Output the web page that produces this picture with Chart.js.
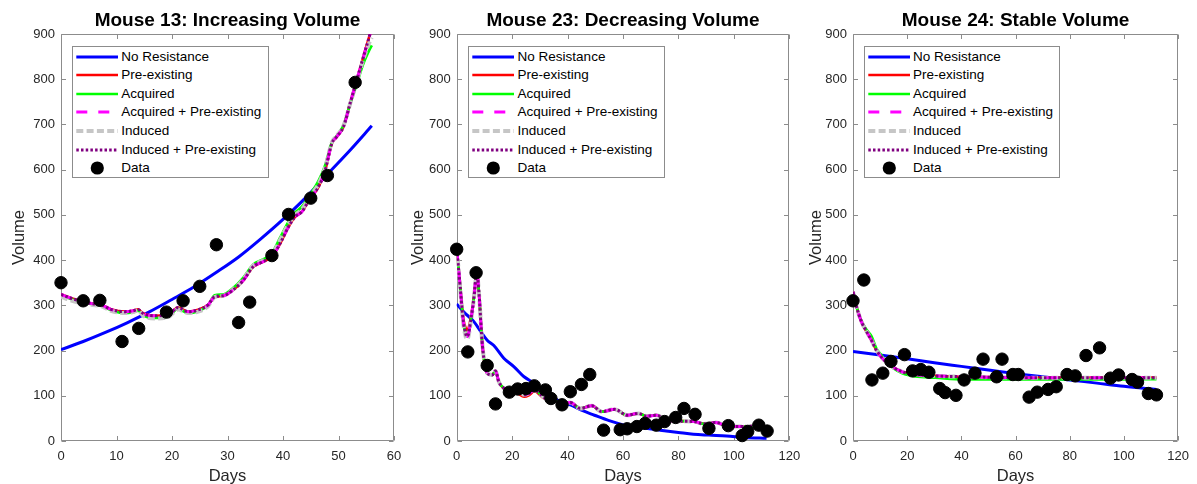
<!DOCTYPE html>
<html><head><meta charset="utf-8">
<script src="https://cdn.jsdelivr.net/npm/chart.js@4.4.1/dist/chart.umd.min.js"></script>
<style>
html,body{margin:0;padding:0;background:#fff;}
#wrap{position:relative;width:1197px;height:484px;overflow:hidden;background:#fff;}
canvas{position:absolute;top:0;}
.lg{position:absolute;background:#fff;border:1px solid #8c8c8c;box-sizing:border-box;font-family:"Liberation Sans",Arial,sans-serif;font-size:13.5px;color:#000;z-index:5;}
.lg .row{position:absolute;left:0;height:18px;width:100%;}
.lg svg{position:absolute;left:0;top:0;}
.lg span{position:absolute;left:48.3px;top:0;line-height:18px;white-space:nowrap;}
</style></head><body>
<div id="wrap">
<canvas id="c1" width="420" height="484" style="left:0px;width:420px;height:484px"></canvas>
<canvas id="c2" width="420" height="484" style="left:399px;width:420px;height:484px"></canvas>
<canvas id="c3" width="400" height="484" style="left:797px;width:400px;height:484px"></canvas>
</div>
<script>
const FONT = '"Liberation Sans", Arial, Helvetica, sans-serif';

// ---------- Mouse 13 ----------
const m13Days = [0, 4, 7, 11, 14, 19, 22, 25, 28, 32, 34, 38, 41, 45, 48, 53];
const m13Volume = [350, 310, 311, 220, 249, 285, 310, 342, 434, 262, 307, 410, 501, 537, 587, 793];
const m13ModelDays = [0, 2, 4, 5.5, 7.3, 9, 11.5, 13, 13.9, 14.8, 16.9, 19.3, 21.1, 22.9, 24.7, 26.5, 27.7, 29.2, 31, 32.9, 34.6, 36.5, 38, 39.5, 41, 42.2, 43.4, 44.9, 46.4, 47.6, 48.8, 49.7, 50.9, 52.1, 53.3, 54.5, 55.7, 56];
const m13PreExisting = [324, 315, 308, 304, 301, 291, 286, 288, 291, 282, 277, 279, 295, 286, 290, 301, 319, 321, 334, 356, 385, 397, 408, 437, 474, 496, 507, 537, 562, 599, 658, 673, 695, 747, 798, 850, 901, 915];
const m13Acquired = [322, 313, 306, 303, 300, 289, 283, 285, 288, 278, 272, 276, 292, 283, 287, 300, 322, 324, 338, 362, 390, 402, 415, 450, 485, 505, 518, 545, 575, 610, 660, 675, 698, 745, 790, 835, 868, 875];
const m13Induced = [319, 310, 304, 301, 298, 288, 283, 285, 289, 277, 271, 274, 291, 283, 286, 298, 318, 321, 335, 358, 388, 400, 412, 445, 480, 500, 512, 542, 568, 605, 660, 675, 697, 746, 795, 845, 885, 892];
const m13Combined = [324, 315, 308, 304, 301, 291, 286, 288, 291, 282, 277, 279, 295, 286, 290, 301, 319, 321, 334, 356, 385, 397, 408, 437, 474, 496, 507, 537, 562, 599, 658, 673, 695, 747, 798, 850, 901, 915];
const m13NoResDays = [0, 4, 8, 12, 16, 20, 24, 28, 32, 36, 40, 44, 48, 52, 56];
const m13NoResistance = [202, 220, 240, 262, 286, 313, 341, 373, 407, 447, 490, 537, 590, 642, 697];

// ---------- Mouse 23 ----------
const m23Days = [0, 4, 7, 11, 14, 19, 22, 25, 28, 32, 34, 38, 41, 45, 48, 53, 59, 61.5, 65, 68, 72, 75, 79, 82, 86, 91, 98, 103, 105, 109, 112];
const m23Volume = [424, 197, 372, 167, 82, 108, 115, 116, 122, 113, 94, 80, 109, 125, 147, 24, 25, 27, 32, 39, 35, 43, 52, 72, 59, 28, 34, 12, 21, 35, 22];
const m23ModelDays = [0, 0.7, 1.4, 2.4, 3.2, 3.6, 4.2, 5.0, 6.2, 7.0, 7.3, 8.0, 9.3, 11, 12.8, 14, 15.2, 17, 20, 22, 24.3, 26, 28, 31.6, 35.2, 37.2, 41, 44.6, 48.8, 52.3, 57, 61.6, 65.5, 68.5, 72, 76, 79.6, 85.6, 89.2, 93.5, 97.7, 103.6, 107.8, 110];
const m23PreExisting = [424, 380, 332, 270, 250, 244, 248, 270, 318, 365, 371, 330, 210, 150, 146, 155, 131, 116, 108, 105, 98, 101, 110, 94, 90, 83, 85, 72, 78, 65, 70, 57, 61, 55, 57, 46, 44, 43, 38, 41, 33, 32, 33, 27];
const m23Acquired = [424, 380, 330, 264, 238, 231, 236, 264, 316, 365, 371, 330, 210, 150, 146, 155, 131, 117, 111, 110, 102, 105, 113, 96, 91, 83, 85, 72, 78, 65, 70, 57, 61, 55, 57, 46, 44, 43, 38, 41, 33, 32, 33, 27];
const m23Induced = [424, 378, 326, 258, 232, 225, 230, 260, 314, 365, 371, 330, 210, 150, 146, 155, 131, 117, 111, 110, 102, 105, 113, 96, 91, 83, 85, 72, 78, 65, 70, 57, 61, 55, 57, 46, 44, 43, 38, 41, 33, 32, 33, 27];
const m23Combined = [424, 380, 330, 264, 238, 231, 236, 264, 316, 365, 371, 330, 210, 150, 146, 155, 131, 117, 111, 110, 102, 105, 113, 96, 91, 83, 85, 72, 78, 65, 70, 57, 61, 55, 57, 46, 44, 43, 38, 41, 33, 32, 33, 27];
const m23NoResDays = [0, 2.6, 6.2, 8.7, 11, 13.4, 17, 20.7, 24.3, 27.9, 32.7, 37.4, 41, 45, 49.7, 55, 60.5, 67, 73.4, 80, 85.4, 91, 97.4, 104, 111.8];
const m23NoResistance = [303, 285, 264, 242, 223, 211, 183, 164, 142, 128, 105, 87, 80, 68, 57, 45, 35, 29, 24, 19, 15, 13, 11, 8, 6];

// ---------- Mouse 24 ----------
const m24Days = [0, 4, 7, 11, 14, 19, 22, 25, 28, 32, 34, 38, 41, 45, 48, 53, 55, 59, 61, 65, 68, 72, 75, 79, 82, 86, 91, 95, 98, 103, 105, 109, 112];
const m24Volume = [310, 356, 135, 150, 176, 191, 155, 158, 152, 116, 107, 101, 135, 150, 181, 142, 181, 147, 147, 97, 108, 114, 120, 147, 144, 189, 206, 139, 146, 136, 130, 105, 102];
const m24ModelDays = [0, 1.3, 3.1, 5, 6.8, 8.6, 10.4, 12.2, 14.6, 18.2, 23, 30.3, 41, 52, 65, 80, 95, 112];
const m24PreExisting = [330, 297, 264, 242, 223, 201, 186, 175, 164, 153, 147, 144, 142, 141, 140, 140, 140, 140];
const m24Acquired = [330, 297, 266, 246, 232, 205, 190, 176, 162, 150, 143, 140, 136, 136, 136, 136, 136, 137];
const m24Induced = [330, 297, 264, 242, 223, 201, 186, 175, 164, 153, 147, 144, 142, 141, 140, 140, 140, 140];
const m24Combined = [330, 297, 264, 242, 223, 201, 186, 175, 164, 153, 147, 144, 142, 141, 140, 140, 140, 140];
const m24NoResDays = [0, 10, 20, 30, 40, 50, 60, 70, 80, 90, 100, 112];
const m24NoResistance = [198, 190, 182, 173, 165, 157, 149, 142, 135, 128, 121, 114];

// ---------- axes / labels ----------
const volumeTicks = {min: 0, max: 900, step: 100};
const titles = ['Mouse 13: Increasing Volume', 'Mouse 23: Decreasing Volume', 'Mouse 24: Stable Volume'];
const legendLabels = ['No Resistance', 'Pre-existing', 'Acquired', 'Acquired + Pre-existing', 'Induced', 'Induced + Pre-existing', 'Data'];

const xy = (xs, ys) => xs.map((x, i) => ({x: x, y: ys[i]}));

const STY = {
  'No Resistance': {color: '#0000ff', width: 3, dash: []},
  'Pre-existing': {color: '#ff0000', width: 2.7, dash: []},
  'Acquired': {color: '#00ff00', width: 2.7, dash: []},
  'Acquired + Pre-existing': {color: '#ff00ff', width: 3, dash: [11, 11]},
  'Induced': {color: '#c6c6c6', width: 4, dash: [7, 3.3]},
  'Induced + Pre-existing': {color: '#800080', width: 3, dash: [2.5, 2.2]}
};

function lineDs(label, xs, ys) {
  const s = STY[label];
  return {label: label, data: xy(xs, ys), showLine: true, borderColor: s.color, backgroundColor: s.color,
    borderWidth: s.width, borderDash: s.dash, borderCapStyle: 'butt', borderJoinStyle: 'round',
    pointRadius: 0, pointHoverRadius: 0, cubicInterpolationMode: 'monotone', fill: false};
}

const boxPlugin = {
  id: 'mbox',
  beforeDatasetsDraw(chart) {
    const {ctx, chartArea: a} = chart;
    const xs = chart.scales.x, ys = chart.scales.y;
    ctx.save();
    ctx.strokeStyle = '#8c8c8c';
    ctx.lineWidth = 1;
    const L = Math.round(a.left) + 0.5, R = Math.round(a.right) - 0.5;
    const T = Math.round(a.top) + 0.5, B = Math.round(a.bottom) - 0.5;
    ctx.beginPath();
    ctx.rect(L, T, R - L, B - T);
    const tl = 4.5;
    xs.ticks.forEach(t => {
      const p = Math.round(xs.getPixelForValue(t.value)) + 0.5;
      ctx.moveTo(p, B); ctx.lineTo(p, B - tl);
      ctx.moveTo(p, T); ctx.lineTo(p, T + tl);
    });
    ys.ticks.forEach(t => {
      const p = Math.round(ys.getPixelForValue(t.value)) + 0.5;
      ctx.moveTo(L, p); ctx.lineTo(L + tl, p);
      ctx.moveTo(R, p); ctx.lineTo(R - tl, p);
    });
    ctx.stroke();
    ctx.restore();
  }
};

function makePanel(id, p) {
  const datasets = [
    {label: 'Data', data: xy(p.days, p.vol), showLine: false, pointRadius: 6.2, pointBorderWidth: 1,
      pointBackgroundColor: '#000', pointBorderColor: '#000', backgroundColor: '#000', borderColor: '#000', clip: false},
    lineDs('Induced + Pre-existing', p.mt, p.comb),
    lineDs('Acquired + Pre-existing', p.mt, p.comb),
    lineDs('Induced', p.mt, p.ind),
    lineDs('Acquired', p.mt, p.acq),
    lineDs('Pre-existing', p.mt, p.pre),
    lineDs('No Resistance', p.nt, p.nr)
  ];
  return new Chart(document.getElementById(id), {
    type: 'scatter',
    data: {datasets: datasets},
    plugins: [boxPlugin],
    options: {
      responsive: false, animation: false, devicePixelRatio: 1, events: [],
      layout: {padding: {left: 0, right: p.padRight, top: 0, bottom: 0}},
      plugins: {
        legend: {display: false}, tooltip: {enabled: false},
        title: {display: true, text: p.title, fullSize: false, color: '#000',
          font: {family: FONT, size: 19, weight: 'bold'}, padding: {top: 9.7, bottom: 1.5}}
      },
      scales: {
        x: {type: 'linear', min: 0, max: p.xmax,
          ticks: {stepSize: p.xstep, color: '#262626', font: {family: FONT, size: 13}, padding: 8, maxRotation: 0},
          grid: {display: false, drawTicks: false}, border: {display: false},
          title: {display: true, text: 'Days', color: '#262626', font: {family: FONT, size: 16.5}, padding: {top: 0, bottom: -2.7}},
          afterFit: s => { s.height = 43; }
        },
        y: {type: 'linear', min: volumeTicks.min, max: volumeTicks.max,
          ticks: {stepSize: volumeTicks.step, color: '#262626', font: {family: FONT, size: 13}, padding: 6},
          grid: {display: false, drawTicks: false}, border: {display: false},
          title: {display: true, text: 'Volume', color: '#262626', font: {family: FONT, size: 16.5}, padding: {top: 9.1, bottom: 0}},
          afterFit: s => { s.width = p.yw; }
        }
      }
    }
  });
}

makePanel('c1', {title: titles[0], days: m13Days, vol: m13Volume, mt: m13ModelDays, pre: m13PreExisting, acq: m13Acquired,
  ind: m13Induced, comb: m13Combined, nt: m13NoResDays, nr: m13NoResistance, xmax: 60, xstep: 10, yw: 61, padRight: 26});
makePanel('c2', {title: titles[1], days: m23Days, vol: m23Volume, mt: m23ModelDays, pre: m23PreExisting, acq: m23Acquired,
  ind: m23Induced, comb: m23Combined, nt: m23NoResDays, nr: m23NoResistance, xmax: 120, xstep: 20, yw: 57.7, padRight: 29.7});
makePanel('c3', {title: titles[2], days: m24Days, vol: m24Volume, mt: m24ModelDays, pre: m24PreExisting, acq: m24Acquired,
  ind: m24Induced, comb: m24Combined, nt: m24NoResDays, nr: m24NoResistance, xmax: 120, xstep: 20, yw: 56, padRight: 12.3});

// ---------- legends (MATLAB-style boxes inside the axes) ----------
function buildLegend(left) {
  const box = document.createElement('div');
  box.className = 'lg';
  box.style.left = left + 'px';
  box.style.top = '45.7px';
  box.style.width = '196.5px';
  box.style.height = '132.6px';
  const NS = 'http://www.w3.org/2000/svg';
  legendLabels.forEach((lab, i) => {
    const row = document.createElement('div');
    row.className = 'row';
    row.style.top = (1 + i * 18.6) + 'px';
    const svg = document.createElementNS(NS, 'svg');
    svg.setAttribute('width', '48'); svg.setAttribute('height', '18');
    if (lab === 'Data') {
      const c = document.createElementNS(NS, 'circle');
      c.setAttribute('cx', '24.3'); c.setAttribute('cy', '9'); c.setAttribute('r', '6.6'); c.setAttribute('fill', '#000');
      svg.appendChild(c);
    } else {
      const s = STY[lab];
      const l = document.createElementNS(NS, 'line');
      l.setAttribute('x1', '3.3'); l.setAttribute('x2', '45'); l.setAttribute('y1', '9'); l.setAttribute('y2', '9');
      l.setAttribute('stroke', s.color); l.setAttribute('stroke-width', String(s.width));
      if (s.dash.length) l.setAttribute('stroke-dasharray', s.dash.join(' '));
      svg.appendChild(l);
    }
    row.appendChild(svg);
    const sp = document.createElement('span');
    sp.textContent = lab;
    row.appendChild(sp);
    box.appendChild(row);
  });
  document.getElementById('wrap').appendChild(box);
}
buildLegend(72);
buildLegend(468.3);
buildLegend(863.7);
</script>
</body></html>
